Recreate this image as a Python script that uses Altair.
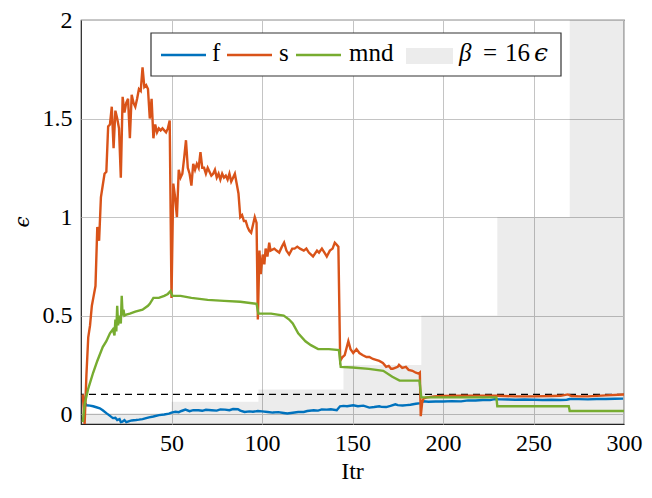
import altair as alt
import pandas as pd

# ---- data ----
f_x = [1, 2, 3.1, 5, 6.7, 8.5, 10.4, 12, 14, 15.5, 17.6, 19, 20, 21.3, 22, 22.9, 24, 25, 26.7, 28, 30.4, 32, 34, 36,
       37.6, 40, 43.1, 46, 48.6, 50, 52.2, 54, 55.5, 57.7, 60, 62, 64.9, 67, 69, 72.2, 75, 77, 79.5, 82, 84, 86.7, 88,
       90.4, 93, 95, 97.7, 100, 103.1, 106, 109, 112, 114, 117, 120, 123.1, 125, 128.6, 131, 133, 135.8, 138, 141.3,
       143.1, 145, 147, 150.4, 153, 156, 159.3, 162, 164.8, 166, 168.6, 171, 173.7, 175, 177.7, 180, 182, 185, 187.7,
       189.3, 192, 195.9, 200, 205, 210, 213.9, 218, 222, 226, 228.6, 232, 236, 240, 245, 250.4, 255, 260, 265, 268.4,
       270, 275, 280, 285, 290, 295, 299.5]
f_y = [0.10, 0.06, 0.045, 0.043, 0.04, 0.035, 0.03, 0.02, 0.005, -0.005, -0.02, -0.018, -0.03, -0.025, -0.04, -0.038,
       -0.03, -0.04, -0.035, -0.032, -0.03, -0.028, -0.025, -0.02, -0.016, -0.012, -0.005, -0.002, 0.003, 0.008, 0.012,
       0.01, 0.016, 0.023, 0.015, 0.02, 0.02, 0.017, 0.022, 0.02, 0.018, 0.024, 0.023, 0.02, 0.026, 0.025, 0.018, 0.011,
       0.014, 0.012, 0.016, 0.014, 0.011, 0.008, 0.01, 0.006, 0.003, 0.007, 0.011, 0.011, 0.016, 0.02, 0.018, 0.024,
       0.023, 0.025, 0.02, 0.04, 0.042, 0.04, 0.045, 0.04, 0.043, 0.033, 0.036, 0.04, 0.037, 0.036, 0.042, 0.05, 0.046,
       0.044, 0.046, 0.048, 0.053, 0.056, 0.065, 0.063, 0.064, 0.064, 0.066, 0.065, 0.07, 0.069, 0.072, 0.071, 0.076,
       0.075, 0.074, 0.073, 0.074, 0.073, 0.072, 0.073, 0.072, 0.073, 0.077, 0.076, 0.075, 0.077, 0.077, 0.078, 0.079]

s_x = [1, 2, 3, 4, 5, 6, 7, 8, 9, 10, 11, 12, 13, 14, 15, 16, 17, 18, 19, 20, 21, 22, 23, 24, 25, 26, 27, 28, 29, 30,
       31, 32, 33, 34, 35, 36, 37, 38, 39, 40, 41, 42, 43, 44, 45, 46, 47, 48, 49, 50, 51, 52, 53, 54, 55, 56, 57, 58,
       59, 60, 61, 62, 63, 64, 65, 66, 67, 68, 69, 70, 71, 72, 73, 74, 75, 76, 77, 78, 79, 80, 81, 82, 83, 84, 85, 86,
       87, 88, 89, 90, 91, 92, 93, 94, 95, 96, 97, 97.7, 98.6, 99.3, 100.4, 101.3, 102, 103, 104, 104.7, 106.8, 108,
       109.5, 111, 112.2, 113.5, 115, 116.7, 118, 119.5, 121, 123.1, 124.5, 125.9, 128.2, 130.4, 131.5, 133.1, 134.5,
       135.8, 137.5, 139, 140.2, 141.2, 142.2, 143.2, 144.5, 145.7, 147.7, 148.9, 150.4, 152.2, 153.8, 155.5, 157.7,
       159.3, 161.3, 163, 164.8, 166.8, 168.6, 170, 171.3, 172.2, 173.5, 175, 175.7, 177.5, 179.5, 181, 183.1, 185,
       186.6, 187.2, 187.7, 188.5, 189.3, 191.3, 195, 200, 210, 220, 230, 240, 250, 260, 265, 269, 271, 275, 280, 290, 300]
s_y = [0.10, -0.05, 0.2, 0.39, 0.45, 0.55, 0.6, 0.65, 0.95, 0.88, 1.1, 1.16, 1.22, 1.23, 1.46, 1.47, 1.56, 1.35, 1.54,
       1.50, 1.45, 1.20, 1.61, 1.53, 1.58, 1.60, 1.40, 1.62, 1.58, 1.56, 1.60, 1.65, 1.64, 1.76, 1.66, 1.67, 1.65, 1.50,
       1.60, 1.40, 1.47, 1.43, 1.45, 1.44, 1.45, 1.44, 1.43, 1.45, 1.49, 0.59, 1.17, 1.10, 1.00, 1.24, 1.20, 1.22, 1.30,
       1.39, 1.25, 1.22, 1.16, 1.27, 1.24, 1.27, 1.25, 1.33, 1.25, 1.25, 1.22, 1.25, 1.23, 1.21, 1.22, 1.24, 1.20, 1.22,
       1.19, 1.22, 1.20, 1.21, 1.19, 1.22, 1.18, 1.20, 1.22, 1.17, 1.12, 1.00, 1.01, 0.98, 0.98, 0.95, 0.93, 0.92, 0.96,
       1.00, 0.97, 0.48, 0.83, 0.71, 0.81, 0.76, 0.84, 0.80, 0.87, 0.83, 0.84, 0.83, 0.82, 0.85, 0.87, 0.83, 0.81, 0.84,
       0.84, 0.85, 0.84, 0.83, 0.84, 0.82, 0.80, 0.83, 0.82, 0.84, 0.82, 0.80, 0.83, 0.84, 0.87, 0.86, 0.85, 0.27, 0.29,
       0.30, 0.37, 0.33, 0.31, 0.33, 0.31, 0.30, 0.29, 0.29, 0.28, 0.275, 0.27, 0.26, 0.24, 0.245, 0.23, 0.23, 0.235,
       0.24, 0.25, 0.235, 0.24, 0.225, 0.22, 0.21, 0.205, 0.21, -0.01, 0.06, 0.08, 0.085, 0.09, 0.092, 0.093, 0.094,
       0.093, 0.09, 0.09, 0.092, 0.093, 0.10, 0.092, 0.09, 0.09, 0.095, 0.10]

m_x = [1, 2, 4, 6.7, 9, 12, 14, 16, 17.6, 18.5, 19, 19.5, 20, 20.5, 21, 22, 22.5, 23, 23.5, 24, 25, 27, 30, 34, 37, 38,
       40, 43, 46, 48, 49.5, 50.5, 55, 61, 70, 79, 88, 97, 98, 105, 112, 115, 117, 120, 124, 127, 131, 137, 142.5, 143.5,
       150, 159, 167, 172, 176, 187, 188, 229.5, 230, 269.5, 270, 300]
m_y = [-0.04, 0.05, 0.13, 0.21, 0.27, 0.34, 0.37, 0.41, 0.43, 0.40, 0.48, 0.42, 0.55, 0.45, 0.50, 0.46, 0.60, 0.50,
       0.53, 0.50, 0.505, 0.51, 0.52, 0.53, 0.55, 0.56, 0.59, 0.59, 0.60, 0.61, 0.625, 0.60, 0.60, 0.59, 0.58, 0.575,
       0.57, 0.56, 0.51, 0.51, 0.50, 0.48, 0.46, 0.41, 0.37, 0.35, 0.33, 0.33, 0.325, 0.24, 0.237, 0.23, 0.22, 0.19,
       0.17, 0.17, 0.085, 0.085, 0.04, 0.04, 0.016, 0.016]

beta_x = [0, 50, 98, 145, 188, 230, 270, 300]
beta_y = [0.004, 0.0625, 0.125, 0.25, 0.5, 1.0, 2.0, 2.0]

threshold = 0.1
series_names = ["f", "s", "mnd"]
series_colors = ["#0072BD", "#D95319", "#77AC30"]
beta_parts = ["β", "=", "16", "ϵ"]
x_title = "Itr"
y_title = "ϵ"

# ---- tables ----
lines_df = pd.concat([
    pd.DataFrame({"Itr": f_x, "eps": f_y, "series": "f"}),
    pd.DataFrame({"Itr": s_x, "eps": s_y, "series": "s"}),
    pd.DataFrame({"Itr": m_x, "eps": m_y, "series": "mnd"}),
], ignore_index=True)
beta_df = pd.DataFrame({"Itr": beta_x, "eps": beta_y, "base": -0.05})
thr_df = pd.DataFrame({"eps": [threshold]})
one = pd.DataFrame({"k": [0]})

W, H = 543, 404
FONT = "'Liberation Serif', 'DejaVu Serif', serif"
GREEK = "'DejaVu Serif', serif"

xs = alt.Scale(domain=[0, 300], nice=False)
ys = alt.Scale(domain=[-0.05, 2], nice=False)

x_axis = alt.Axis(values=[50, 100, 150, 200, 250, 300], title=None, grid=True, ticks=False, domain=False,
                  labelPadding=7, labelFlush=False)
y_axis = alt.Axis(values=[0, 0.5, 1, 1.5, 2], format="~g", title=None, grid=True, ticks=False, domain=False,
                  labelPadding=9, labelFlush=False)

beta = alt.Chart(beta_df).mark_area(interpolate="step-after", color="#000000", opacity=0.075, clip=True).encode(
    x=alt.X("Itr:Q", scale=xs, axis=x_axis),
    y=alt.Y("eps:Q", scale=ys, axis=y_axis),
    y2="base:Q",
)

thr = alt.Chart(thr_df).mark_rule(color="black", strokeDash=[7, 5], strokeWidth=1.3).encode(
    y=alt.Y("eps:Q", scale=ys),
)

line_layers = [
    alt.Chart(lines_df[lines_df.series == n]).mark_line(strokeWidth=2.4, clip=True, color=c).encode(
        x=alt.X("Itr:Q", scale=xs), y=alt.Y("eps:Q", scale=ys))
    for n, c in zip(series_names, series_colors)
]

base1 = alt.Chart(one)

# axis titles
titles = [
    base1.mark_text(text=x_title, align="center", baseline="middle", font=FONT, fontSize=24, color="black")
    .encode(x=alt.value(W / 2), y=alt.value(H + 48)),
    base1.mark_text(text=y_title, align="center", baseline="middle", font=GREEK, fontSize=20, fontStyle="italic",
                    angle=270, color="black").encode(x=alt.value(-58), y=alt.value(H / 2)),
]

# ---- legend (inside plot, top) ----
box = base1.mark_rect(fill="white", stroke="#333333", strokeWidth=1.2).encode(
    x=alt.value(70), x2=alt.value(480), y=alt.value(13), y2=alt.value(56))
leg = [box]
sx = [80, 146, 215]
tx = [131, 198, 268]
for n, c, a, t in zip(series_names, series_colors, sx, tx):
    leg.append(base1.mark_rule(color=c, strokeWidth=2.4).encode(
        x=alt.value(a), x2=alt.value(a + 45), y=alt.value(35)))
    leg.append(base1.mark_text(text=n, align="left", baseline="middle", font=FONT, fontSize=25, color="black")
               .encode(x=alt.value(t), y=alt.value(33)))
leg.append(base1.mark_rect(color="#000000", opacity=0.075).encode(
    x=alt.value(325), x2=alt.value(372), y=alt.value(28), y2=alt.value(44)))
for part, px, sty, fnt in zip(beta_parts, [378, 402, 424, 453], ["italic", "normal", "normal", "italic"],
                              [FONT, FONT, FONT, GREEK]):
    leg.append(base1.mark_text(text=part, align="left", baseline="middle", font=fnt, fontSize=25,
                               fontStyle=sty, color="black").encode(x=alt.value(px), y=alt.value(33)))

chart = alt.layer(beta, thr, *line_layers, *titles, *leg).properties(
    width=W, height=H,
    autosize=alt.AutoSizeParams(type="none"),
    padding={"left": 73, "top": 12, "right": 20, "bottom": 66},
).configure_view(stroke="#222222", strokeWidth=1.2).configure_axis(
    gridColor="#c4c4c4", gridWidth=1, labelFont=FONT, labelFontSize=24, labelColor="black",
)

chart.save("out.html", embed_options={"renderer": "svg", "actions": False})
